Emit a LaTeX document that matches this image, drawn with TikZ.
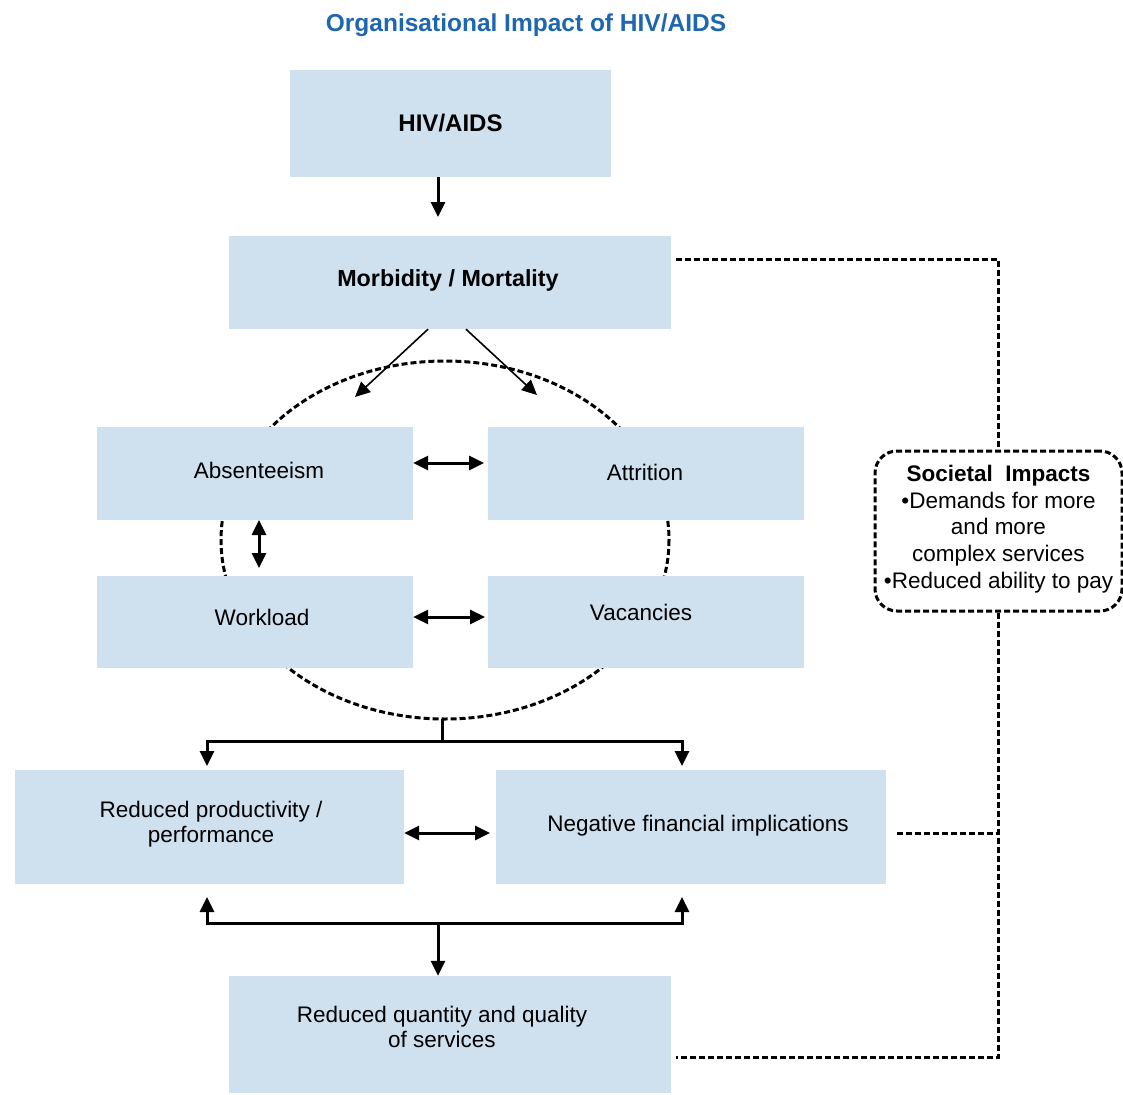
\documentclass[tikz,border=0pt]{standalone}
\usepackage{fontspec}
\setmainfont{Liberation Sans}
\usetikzlibrary{arrows.meta,calc}
\definecolor{boxfill}{HTML}{CFE0EE}
\definecolor{titleblue}{HTML}{1E67B0}
\begin{document}
\begin{tikzpicture}[x=1pt,y=-1pt,
  every node/.style={font=\fontsize{22.5}{25}\selectfont},
  box/.style={fill=boxfill,draw=none,align=center,inner sep=0pt},
  tip/.style={-{Triangle[length=15pt,width=14pt]}},
  conn/.style={line width=3pt,tip},
  both/.style={line width=3pt,{Triangle[length=15pt,width=14pt]}-{Triangle[length=15pt,width=14pt]}},
  plain/.style={line width=3pt},
  dashline/.style={line width=3pt,dash pattern=on 6pt off 3pt}]
\useasboundingbox (0,0) rectangle (1123,1094);
% title
\node[font=\fontsize{24.5}{28}\selectfont\bfseries,text=titleblue] (title) at (526,25) {Organisational Impact of HIV/AIDS};
% boxes
\node[box,minimum width=321pt,minimum height=107pt,font=\fontsize{24}{28}\selectfont\bfseries] (hiv) at (450.5,123.5) {HIV/AIDS};
\node[box,minimum width=442pt,minimum height=93pt] (morb) at (450,282.5) {};
\node[font=\fontsize{23.3}{28}\selectfont\bfseries] (morbT) at (448,280) {Morbidity / Mortality};
% dashed ellipse around the four workforce boxes
\draw[dashline] (445,540) ellipse [x radius=224, y radius=179];
\node[box,minimum width=316pt,minimum height=93pt] (abs) at (255,473.5) {};
\node (absT) at (259,470) {Absenteeism};
\node[box,minimum width=316pt,minimum height=93pt] (att) at (646,473.5) {};
\node (attT) at (645,472) {Attrition};
\node[box,minimum width=316pt,minimum height=92pt] (work) at (255,622) {};
\node (workT) at (262,617) {Workload};
\node[box,minimum width=316pt,minimum height=92pt] (vac) at (646,622) {};
\node (vacT) at (641,612) {Vacancies};
\node[box,minimum width=389pt,minimum height=114pt] (prod) at (209.5,827) {};
\node[align=center] (prodT) at (211,824) {Reduced productivity /\\performance};
\node[box,minimum width=390pt,minimum height=114pt] (fin) at (691,827) {};
\node (finT) at (698,826) {Negative financial implications};
\node[box,minimum width=442pt,minimum height=117pt] (qual) at (450,1034.5) {};
\node[align=center] (qualT) at (442,1027) {Reduced quantity and quality\\of services};
% societal impacts
\node[draw,dashline,rounded corners=22pt,minimum width=247pt,minimum height=160pt] (soc) at (998.5,531) {};
\node[align=center,font=\fontsize{22.5}{26.7}\selectfont] (socT) at (998.5,529) {\textbf{Societal~ Impacts}\\•Demands for more\\and more\\complex services\\•Reduced ability to pay};
% connectors
\draw[conn] (hiv.south -| 438,0) -- (438,217);
\draw[line width=1.6pt,tip] ($(morb.south)+(-22,0)$) -- (355,397);
\draw[line width=1.6pt,tip] ($(morb.south)+(16,0)$) -- (537,395);
\draw[both] (abs.east |- 0,463) -- (484,463);
\draw[both] (259,520) -- (259,568);
\draw[both] (work.east |- 0,617) -- (485,617);
\coordinate (ebot) at (442,719);
\coordinate (split) at (442,741);
\draw[plain] (ebot) -- (split);
\draw[conn] (split) -| (207,766);
\draw[conn] (split) -| (682,766);
\draw[both] (prod.east |- 0,833) -- (490,833);
\coordinate (join) at (438,923);
\draw[conn] (join) -| (207,897);
\draw[conn] (join) -| (682,897);
\draw[conn] (join) -- (qual.north -| join);
% dashed links to the societal impacts box
\draw[dashline] (676,259) -| (soc.north);
\draw[dashline] (soc.south) |- (676,1057);
\draw[dashline] (897,833) -- (997,833);
\end{tikzpicture}
\end{document}
